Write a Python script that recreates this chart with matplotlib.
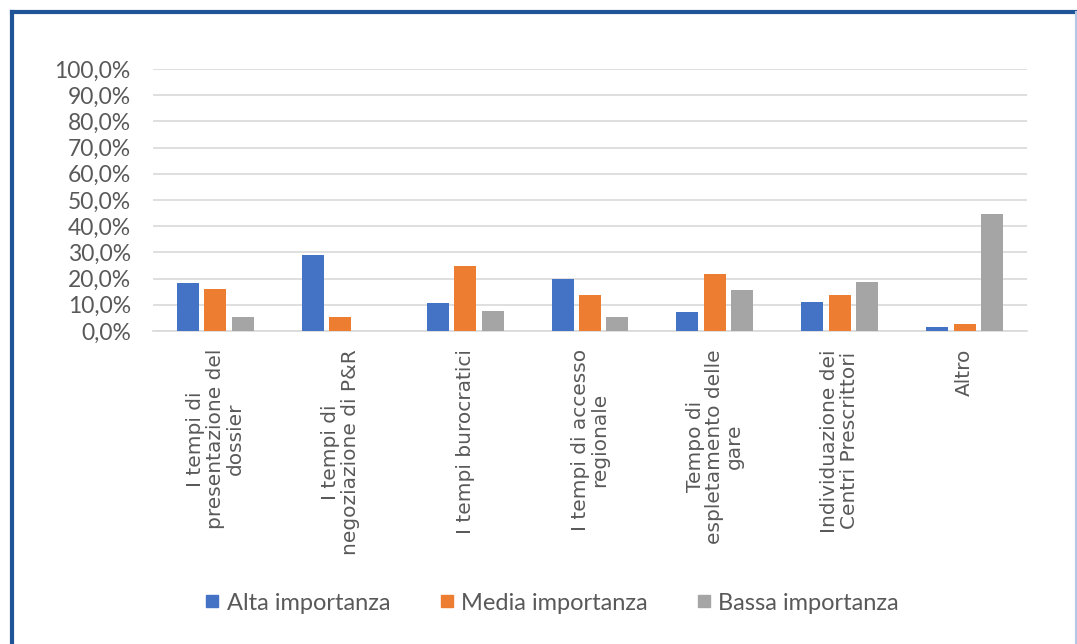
import matplotlib.pyplot as plt
import numpy as np
from matplotlib.lines import Line2D
from matplotlib.ticker import FuncFormatter

# Dati (percentuali)
categorie = [
    "I tempi di\npresentazione del\ndossier",
    "I tempi di\nnegoziazione di P&R",
    "I tempi burocratici",
    "I tempi di accesso\nregionale",
    "Tempo di\nespletamento delle\ngare",
    "Individuazione dei\nCentri Prescrittori",
    "Altro",
]
alta = [18.2, 29.0, 10.6, 20.0, 7.2, 10.9, 1.4]
media = [16.1, 5.3, 24.7, 13.6, 21.8, 13.8, 2.6]
bassa = [5.3, 0.0, 7.6, 5.5, 15.8, 18.8, 44.6]
serie = ["Alta importanza", "Media importanza", "Bassa importanza"]
colori = ["#4472C4", "#ED7D31", "#A5A5A5"]

fig = plt.figure(figsize=(10.77, 6.44), dpi=100)
ax = fig.add_axes([153 / 1077, 1 - 331 / 644, 874 / 1077, 262 / 644])

x = np.arange(len(categorie))
w = 0.176
passo = 0.22
for i, (vals, nome, col) in enumerate(zip([alta, media, bassa], serie, colori)):
    ax.bar(x + (i - 1) * passo, vals, width=w, color=col, label=nome, zorder=3)

ax.set_xlim(-0.5, len(categorie) - 0.5)
ax.set_ylim(0, 100)
ax.set_yticks(np.arange(0, 101, 10))
ax.yaxis.set_major_formatter(FuncFormatter(lambda v, p: f"{v:.1f}%".replace(".", ",")))
ax.grid(axis="y", color="#D9D9D9", linewidth=1.2, zorder=0)
for s in ["top", "right", "left"]:
    ax.spines[s].set_visible(False)
ax.spines["bottom"].set_color("#D9D9D9")
ax.spines["bottom"].set_linewidth(1.2)
ax.tick_params(axis="both", length=0, colors="#595959")
ax.tick_params(axis="y", pad=16)
for t in ax.get_yticklabels():
    t.set_fontfamily("Lato")
    t.set_fontsize(16.5)

ax.set_xticks(x)
ax.set_xticklabels(categorie, rotation=90, fontsize=14.5, color="#595959",
                   multialignment="center", linespacing=1.05, family="DejaVu Sans")
ax.tick_params(axis="x", pad=13)

# legenda
maniglie = [Line2D([0], [0], marker="s", linestyle="", markersize=9,
                   markerfacecolor=c, markeredgecolor=c) for c in colori]
fig.legend(maniglie, serie, loc="center", bbox_to_anchor=(551 / 1077, 1 - 603 / 644),
           ncol=3, frameon=False, handletextpad=0.2, columnspacing=2.0,
           handlelength=0.8, prop={"family": "Lato", "size": 17}, labelcolor="#595959")

# cornice
fig.add_artist(Line2D([12 / 1077, 12 / 1077], [0, 1 - 12 / 644], color="#1F5496", linewidth=3))
fig.add_artist(Line2D([12 / 1077, 1], [1 - 12 / 644, 1 - 12 / 644], color="#1F5496", linewidth=3))
fig.add_artist(Line2D([1076 / 1077, 1076 / 1077], [0, 1 - 12 / 644], color="#B4C7E7", linewidth=1.5))

fig.savefig("out.png", dpi=100)
